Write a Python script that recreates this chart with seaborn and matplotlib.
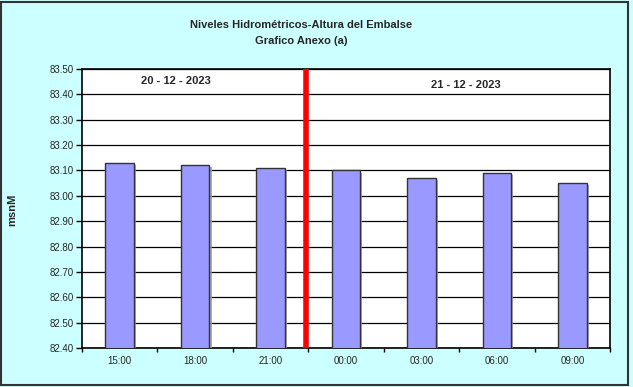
import matplotlib
matplotlib.use("Agg")
import matplotlib.pyplot as plt
import matplotlib.patheffects as pe
from matplotlib.patches import Rectangle
import seaborn as sns
import pandas as pd
import numpy as np

hours = ["15:00", "18:00", "21:00", "00:00", "03:00", "06:00", "09:00"]
levels = [83.13, 83.12, 83.11, 83.10, 83.07, 83.09, 83.05]
yticks = [82.40, 82.50, 82.60, 82.70, 82.80, 82.90, 83.00, 83.10, 83.20, 83.30, 83.40, 83.50]
title_lines = ["Niveles Hidrométricos-Altura del Embalse", "Grafico Anexo (a)"]
day_labels = ["20 - 12 - 2023", "21 - 12 - 2023"]

sns.set_style("white")
plt.rcParams['font.family'] = ['Liberation Sans', 'DejaVu Sans']

df = pd.DataFrame({"hora": hours, "nivel": levels})

fig = plt.figure(figsize=(6.33, 3.87), dpi=100, facecolor="#CCFFFF")
fig.patches.append(Rectangle((0.002, 0.004), 0.99, 0.992, transform=fig.transFigure,
                             fill=False, edgecolor="#333333", linewidth=1.5))
ax = fig.add_axes([0.1295, 0.1008, 0.8342, 0.7209])
ax.set_facecolor("white")

sns.barplot(data=df, x="hora", y="nivel", color="#9999FF", width=0.38,
            edgecolor="#333333", linewidth=1, saturation=1, ax=ax, zorder=3)
for p in ax.patches:
    p.set_path_effects([pe.SimplePatchShadow(offset=(1.5, -1.5), shadow_rgbFace="#999999", alpha=0.8), pe.Normal()])

ax.set_ylim(82.40, 83.50)
ax.set_xlim(-0.5, len(hours) - 0.5)
ax.set_yticks(yticks)
ax.set_yticklabels([f"{v:.2f}" for v in yticks], fontsize=7)
ax.yaxis.grid(True, color="black", linewidth=0.9, zorder=1)
ax.set_axisbelow(True)
ax.tick_params(axis="y", direction="out", length=4, width=1, color="black", left=True, pad=2)
ax.set_xticks(range(len(hours)))
ax.set_xticklabels(hours, fontsize=7)
ax.tick_params(axis="x", which="major", length=0, pad=6)
ax.set_xticks(np.arange(-0.5, len(hours), 1.0), minor=True)
ax.tick_params(axis="x", which="minor", direction="out", length=3, width=1, color="black", bottom=True)
for s in ax.spines.values():
    s.set_color("black")
    s.set_linewidth(1.2)

ax.axvline(2.47, color="#FF0000", linewidth=4, zorder=5)

ax.set_xlabel("")
ax.set_ylabel("")
fig.text(12 / 633, 1 - 210 / 387, "msnM", rotation=90, ha="center", va="center",
         fontsize=8, fontweight="bold")

fig.text(0.278, 1 - 80.7 / 387, day_labels[0], ha="center", va="center", fontsize=8, fontweight="bold")
fig.text(0.736, 1 - 85 / 387, day_labels[1], ha="center", va="center", fontsize=8, fontweight="bold")
fig.text(0.476, 1 - 25 / 387, title_lines[0], ha="center", va="center", fontsize=8, fontweight="bold")
fig.text(0.476, 1 - 41 / 387, title_lines[1], ha="center", va="center", fontsize=8, fontweight="bold")

fig.savefig("out.png", dpi=100, facecolor=fig.get_facecolor())
